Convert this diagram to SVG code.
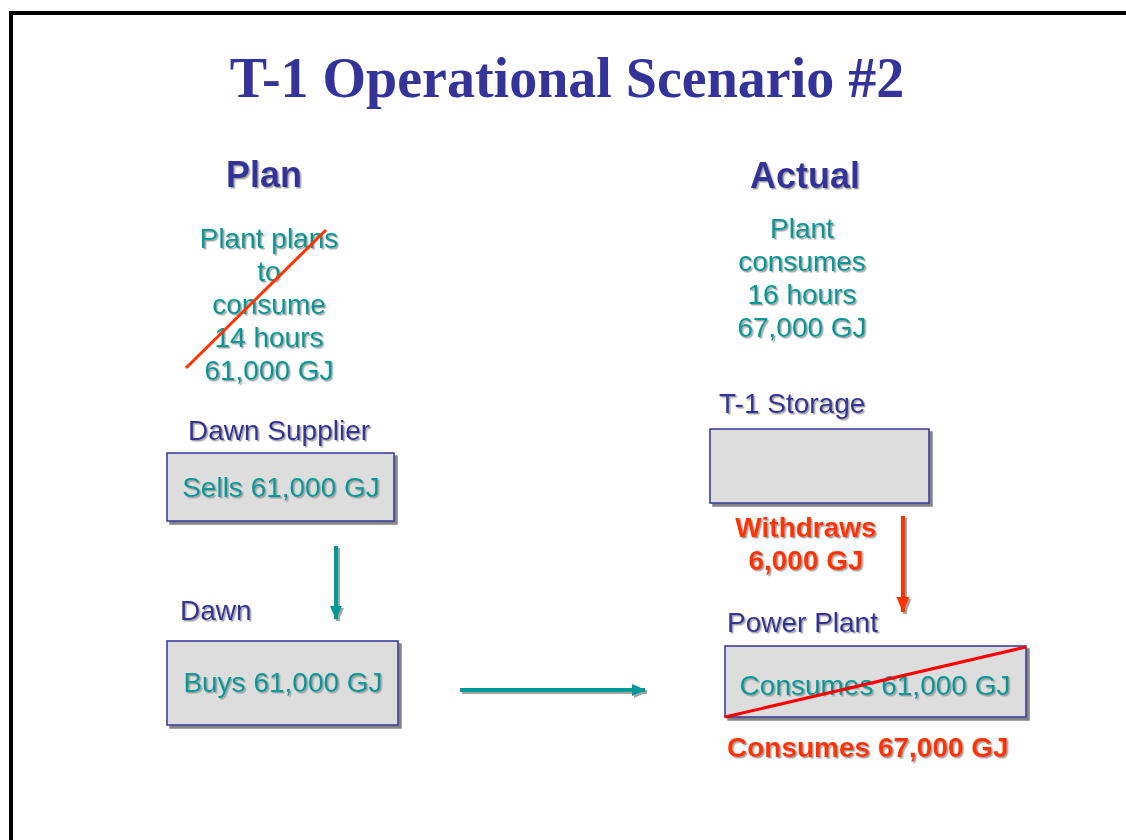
<svg xmlns="http://www.w3.org/2000/svg" width="1126" height="840" viewBox="0 0 1126 840">
<defs>
<filter id="ts" x="-5%" y="-20%" width="115%" height="150%">
<feDropShadow dx="1.5" dy="1.5" stdDeviation="0.4" flood-color="#999999" flood-opacity="0.9"/>
</filter>
<filter id="bs" x="-5%" y="-5%" width="115%" height="120%">
<feDropShadow dx="3" dy="3" stdDeviation="0.5" flood-color="#777777" flood-opacity="0.9"/>
</filter>
<filter id="as" filterUnits="userSpaceOnUse" x="0" y="0" width="1126" height="840">
<feDropShadow dx="2" dy="2" stdDeviation="0.5" flood-color="#999999" flood-opacity="0.9"/>
</filter>
<marker id="ahT" markerWidth="14" markerHeight="14" refX="13" refY="7" orient="auto" markerUnits="userSpaceOnUse">
<path d="M0,1 L14,7 L0,13 z" fill="#009999"/>
</marker>
<marker id="ahR" markerWidth="16" markerHeight="14" refX="15" refY="7" orient="auto" markerUnits="userSpaceOnUse">
<path d="M0,0.5 L16,7 L0,13.5 z" fill="#FF3300"/>
</marker>
</defs>
<style>
.s{font-family:"Liberation Sans",Arial,sans-serif;font-size:28px;filter:url(#ts)}
.teal{fill:#009999}
.blue{fill:#333399}
.red{fill:#FF3300;font-weight:bold}
.hd{font-family:"Liberation Sans",Arial,sans-serif;font-size:36px;font-weight:bold;fill:#333399;filter:url(#ts)}
.box{fill:#DDDDDD;stroke:#333399;stroke-width:1.5;filter:url(#bs)}
.mid{text-anchor:middle}
.con{stroke-width:4;filter:url(#as)}
</style>
<rect x="0" y="0" width="1126" height="840" fill="#FFFFFF"/>
<rect x="11" y="13" width="1200" height="900" fill="none" stroke="#000000" stroke-width="4"/>
<text x="567" y="97" text-anchor="middle" font-family="'Liberation Serif','Times New Roman',serif" font-weight="bold" font-size="56" fill="#333399">T-1 Operational Scenario #2</text>

<g id="plan-header"><text class="hd mid" x="264" y="187">Plan</text></g>
<g id="actual-header"><text class="hd mid" x="805" y="188">Actual</text></g>

<g id="plan-note">
<text class="s teal mid" x="269" y="248">Plant plans</text>
<text class="s teal mid" x="269" y="281">to</text>
<text class="s teal mid" x="269" y="314">consume</text>
<text class="s teal mid" x="269" y="347">14 hours</text>
<text class="s teal mid" x="269" y="380">61,000 GJ</text>
<line x1="186" y1="368" x2="326" y2="230" stroke="#FF3300" stroke-width="3"/>
</g>

<g id="actual-note">
<text class="s teal mid" x="802" y="238">Plant</text>
<text class="s teal mid" x="802" y="271">consumes</text>
<text class="s teal mid" x="802" y="304">16 hours</text>
<text class="s teal mid" x="802" y="337">67,000 GJ</text>
</g>

<g id="dawn-supplier">
<text class="s blue" x="188" y="440">Dawn Supplier</text>
<rect class="box" x="167" y="453" width="227" height="68"/>
<text class="s teal mid" x="281" y="497">Sells 61,000 GJ</text>
</g>

<g id="dawn">
<text class="s blue" x="180" y="620">Dawn</text>
<rect class="box" x="167" y="641" width="231" height="84"/>
<text class="s teal mid" x="283" y="692">Buys 61,000 GJ</text>
</g>

<g id="t1-storage">
<text class="s blue" x="719" y="413">T-1 Storage</text>
<rect class="box" x="710" y="429" width="219" height="74"/>
</g>

<g id="withdraws-label">
<text class="s red mid" x="806" y="537">Withdraws</text>
<text class="s red mid" x="806" y="570">6,000 GJ</text>
</g>

<g id="power-plant">
<text class="s blue" x="727" y="632">Power Plant</text>
<rect class="box" x="725" y="646" width="301" height="71"/>
<text class="s teal mid" x="875" y="695">Consumes 61,000 GJ</text>
<line x1="725" y1="717" x2="1026" y2="647" stroke="#FF0000" stroke-width="3"/>
<text class="s red" x="727" y="757">Consumes 67,000 GJ</text>
</g>

<g id="connectors">
<line class="con" x1="336" y1="546" x2="336" y2="619" stroke="#009999" marker-end="url(#ahT)"/>
<line class="con" x1="460" y1="690" x2="645" y2="690" stroke="#009999" marker-end="url(#ahT)"/>
<line class="con" x1="903" y1="516" x2="903" y2="612" stroke="#FF3300" marker-end="url(#ahR)"/>
</g>
</svg>
